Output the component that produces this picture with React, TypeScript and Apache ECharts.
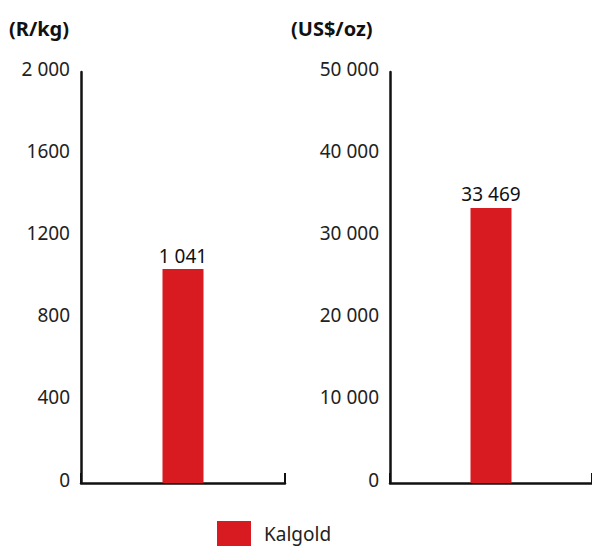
import React, { useEffect, useRef } from "react";
import * as echarts from "echarts";

// Unit cost for the single operation, in two currencies
const categories = ["Kalgold"];
const seriesName = "Kalgold";
const randPerKg = [1041];
const usdPerOz = [33469];

const leftTickLabels = ["0", "400", "800", "1200", "1600", "2 000"];
const rightTickLabels = ["0", "10 000", "20 000", "30 000", "40 000", "50 000"];
const leftUnit = "(R/kg)";
const rightUnit = "(US$/oz)";

const RED = "#d81a21";
const FONT = "'Noto Sans', 'DejaVu Sans', sans-serif";

const groupThousands = (v: number) =>
  String(v).replace(/\B(?=(\d{3})+(?!\d))/g, " ");

export default function App() {
  const ref = useRef<HTMLDivElement>(null);

  useEffect(() => {
    if (!ref.current) return;
    const chart = echarts.init(ref.current, undefined, { renderer: "svg" });

    const xAxisBase = {
      type: "category" as const,
      data: categories,
      axisLine: { show: true, lineStyle: { color: "#111", width: 2.5 } },
      axisTick: {
        show: true,
        inside: true,
        length: 10,
        lineStyle: { color: "#111", width: 2 },
      },
      axisLabel: { show: false },
      splitLine: { show: false },
    };

    const yAxisBase = {
      type: "value" as const,
      min: 0,
      axisLine: { show: true, lineStyle: { color: "#111", width: 2.5 } },
      axisTick: { show: false },
      splitLine: { show: false },
    };

    // Tick labels sit a few pixels above their value
    const tickLabelStyle = {
      margin: 11,
      fontSize: 19,
      color: "#222",
      fontFamily: FONT,
      verticalAlign: "bottom",
      lineHeight: 7,
    };

    const barLabel = {
      show: true,
      position: "top" as const,
      distance: 4,
      color: "#111",
      fontSize: 19,
      fontFamily: FONT,
      formatter: (p: any) => groupThousands(p.value),
    };

    const titleStyle = { fontSize: 20, fontWeight: "bold", color: "#111", fontFamily: FONT };

    chart.setOption({
      animation: false,
      textStyle: { fontFamily: FONT },
      title: [
        { text: leftUnit, left: 9, top: 18, padding: 0, textStyle: titleStyle },
        { text: rightUnit, left: 291, top: 18, padding: 0, textStyle: titleStyle },
      ],
      legend: {
        data: [seriesName],
        left: 217,
        top: 521,
        padding: 0,
        itemWidth: 34,
        itemHeight: 25,
        icon: "rect",
        textStyle: { fontSize: 19, color: "#222", fontFamily: FONT, padding: [0, 0, 0, 8] },
      },
      grid: [
        { left: 81, top: 72, width: 204, height: 411 },
        { left: 390, top: 72, width: 202, height: 411 },
      ],
      xAxis: [
        { ...xAxisBase, gridIndex: 0 },
        { ...xAxisBase, gridIndex: 1 },
      ],
      yAxis: [
        {
          ...yAxisBase,
          gridIndex: 0,
          max: 2000,
          interval: 400,
          axisLabel: {
            ...tickLabelStyle,
            formatter: (v: number) => leftTickLabels[Math.round(v / 400)] ?? "",
          },
        },
        {
          ...yAxisBase,
          gridIndex: 1,
          max: 50000,
          interval: 10000,
          axisLabel: {
            ...tickLabelStyle,
            formatter: (v: number) => rightTickLabels[Math.round(v / 10000)] ?? "",
          },
        },
      ],
      series: [
        {
          name: seriesName,
          type: "bar",
          xAxisIndex: 0,
          yAxisIndex: 0,
          data: randPerKg,
          barWidth: 41,
          itemStyle: { color: RED },
          label: barLabel,
        },
        {
          name: seriesName,
          type: "bar",
          xAxisIndex: 1,
          yAxisIndex: 1,
          data: usdPerOz,
          barWidth: 41,
          itemStyle: { color: RED },
          label: barLabel,
        },
      ],
    });

    return () => chart.dispose();
  }, []);

  return (
    <div
      ref={ref}
      style={{ position: "fixed", left: 0, top: 0, width: 592, height: 546, background: "#fff" }}
    />
  );
}
